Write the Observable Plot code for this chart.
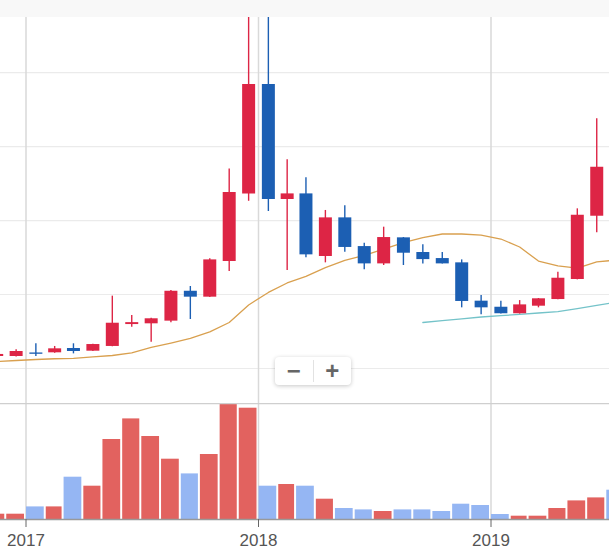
<!DOCTYPE html>
<html>
<head>
<meta charset="utf-8">
<script src="https://cdn.jsdelivr.net/npm/d3@7"></script>
<script src="https://cdn.jsdelivr.net/npm/@observablehq/plot@0.6"></script>
<style>
  html, body { margin: 0; padding: 0; background: #fff; }
  body { font-family: "Liberation Sans", Arial, sans-serif; }
  #wrap { position: relative; width: 609px; height: 549px; overflow: hidden; }
  #band { height: 17px; background: #f8f8f8; }
  #wrap svg { display: block; }
  #zoomctl {
    position: absolute; left: 275px; top: 357px; width: 76px; height: 28px;
    background: #fff; border-radius: 4px; box-shadow: 0 1px 4px rgba(0,0,0,0.22);
    display: flex; align-items: center; color: #666; font-weight: bold;
    font-family: "Liberation Sans", Arial, sans-serif; font-size: 24px; z-index: 2;
  }
  #zoomctl span { flex: 1; text-align: center; line-height: 28px; }
  #zoomctl i { width: 1px; height: 22px; background: #e2e2e2; }
</style>
</head>
<body>
<div id="wrap">
  <div id="band"></div>
  <div id="price"></div>
  <div id="volume"></div>
  <div id="zoomctl"><span>−</span><i></i><span>+</span></div>
</div>
<script>
// Monthly candles, prices in million KRW
const months = [
  "2016-11", "2016-12",
  "2017-01", "2017-02", "2017-03", "2017-04", "2017-05", "2017-06",
  "2017-07", "2017-08", "2017-09", "2017-10", "2017-11", "2017-12",
  "2018-01", "2018-02", "2018-03", "2018-04", "2018-05", "2018-06",
  "2018-07", "2018-08", "2018-09", "2018-10", "2018-11", "2018-12",
  "2019-01", "2019-02", "2019-03", "2019-04", "2019-05", "2019-06", "2019-07"
];
const open = [
  0.81, 0.81,
  1.05, 1.06, 1.35, 1.17, 1.49, 2.97, 3.02, 3.20, 5.22, 4.82, 7.23, 11.80,
  19.19, 11.42, 11.80, 7.57, 10.18, 8.24, 7.07, 8.83, 7.84, 7.43, 7.14, 4.55,
  4.14, 3.70, 4.21, 4.66, 6.01, 10.29, 13.60
];
const high = [
  0.98, 1.26,
  1.67, 1.49, 1.67, 1.64, 4.89, 3.58, 3.40, 5.27, 5.54, 7.41, 13.49, 25.00,
  28.80, 14.10, 12.89, 10.68, 11.00, 8.47, 9.55, 8.85, 8.36, 7.84, 7.34, 4.93,
  4.55, 4.59, 4.73, 6.51, 10.79, 16.87, 15.80
];
const low = [
  0.78, 0.78,
  0.81, 1.03, 0.99, 1.15, 1.47, 2.79, 1.78, 3.09, 3.31, 4.80, 6.55, 11.30,
  10.61, 6.62, 7.48, 7.14, 7.86, 6.67, 6.96, 6.96, 7.07, 7.07, 4.10, 3.63,
  3.68, 3.68, 4.10, 4.64, 5.99, 9.17, 10.50
];
const close = [
  0.95, 1.15,
  0.96, 1.33, 1.15, 1.62, 3.06, 3.10, 3.36, 5.22, 4.82, 7.34, 11.89, 19.19,
  11.42, 11.80, 7.68, 10.18, 8.18, 7.07, 8.85, 7.79, 7.36, 7.07, 4.53, 4.10,
  3.70, 4.30, 4.71, 6.10, 10.36, 13.60, 11.80
];
const volume = [
  5.3, 5.3,
  12.6, 12.6, 42.3, 33.3, 80.0, 100.6, 83.0, 60.3, 45.6, 65.0, 116.0, 111.3,
  33.3, 35.0, 33.3, 20.3, 11.0, 9.6, 8.0, 9.6, 9.6, 8.0, 15.3, 14.0,
  5.0, 3.3, 3.3, 11.0, 18.6, 21.6, 29.3
];
// Moving averages of the close
const maShort = [
  0.47, 0.54,
  0.61, 0.66, 0.69, 0.78, 0.88, 1.05, 1.42, 1.72, 2.03, 2.47, 3.11, 4.29,
  5.14, 5.78, 6.22, 6.82, 7.30, 7.64, 8.07, 8.51, 8.85, 9.09, 9.09, 9.02,
  8.75, 8.21, 7.26, 6.93, 6.79, 7.20, 7.33
];
const maLong = [
  null, null,
  null, null, null, null, null, null, null, null, null, null, null, null,
  null, null, null, null, null, null, null, null, 3.11, 3.24, 3.36, 3.48,
  3.57, 3.66, 3.75, 3.84, 4.04, 4.26, 4.48
];
const priceGrid = [0, 5, 10, 15, 20];
const yearTicks = ["2017-01-01", "2018-01-01", "2019-01-01"].map(s => new Date(s + "T00:00:00Z"));

const UP = "#dd2545", DOWN = "#1c5fb3";
const UP_VOL = "#e2625f", DOWN_VOL = "#95b6f3";

const rows = months.map((m, i) => {
  const [yy, mm] = m.split("-").map(Number);
  const start = new Date(Date.UTC(yy, mm - 1, 1));
  const end = new Date(Date.UTC(yy, mm, 1));
  return {
    start, end, mid: new Date((+start + +end) / 2),
    open: open[i], high: high[i], low: low[i], close: close[i],
    volume: volume[i], maShort: maShort[i], maLong: maLong[i],
    up: close[i] >= open[i]
  };
});

// Visible time window: 2017 tick at 25.5px, 2018 tick at 258px
const t0 = Date.UTC(2017, 0, 1), t1 = Date.UTC(2018, 0, 1);
const pxPerMs = (258 - 25.5) / (t1 - t0);
const xDomain = [new Date(t0 - 25.5 / pxPerMs), new Date(t0 + (609 - 25.5) / pxPerMs)];

const price = Plot.plot({
  width: 609, height: 386,
  marginTop: 0, marginRight: 0, marginBottom: 0, marginLeft: 0,
  x: {type: "utc", domain: xDomain, axis: null},
  y: {domain: [-2.365, 23.72], axis: null},
  color: {type: "identity"},
  style: {background: "transparent"},
  marks: [
    Plot.ruleY(priceGrid, {stroke: "#ebebeb", strokeWidth: 1.2}),
    Plot.ruleX(yearTicks, {stroke: "#d9d9d9", strokeWidth: 1.5}),
    Plot.line(rows, {x: "mid", y: "maShort", stroke: "#d9a04f", strokeWidth: 1.3, clip: true}),
    Plot.line(rows.filter(d => d.maLong != null), {x: "mid", y: "maLong", stroke: "#74c3c9", strokeWidth: 1.3, clip: true}),
    Plot.ruleX(rows, {x: "mid", y1: "low", y2: "high", stroke: d => d.up ? UP : DOWN, strokeWidth: 1.4, clip: true}),
    Plot.ruleX(rows, {x: "mid", y1: "open", y2: "close", stroke: d => d.up ? UP : DOWN, strokeWidth: 13, clip: true})
  ]
});
document.getElementById("price").append(price);

const vol = Plot.plot({
  width: 609, height: 146,
  marginTop: 0, marginRight: 0, marginBottom: 30, marginLeft: 0,
  x: {type: "utc", domain: xDomain, label: null},
  y: {domain: [0, 116], axis: null},
  color: {type: "identity"},
  style: {background: "transparent", color: "#555", fontFamily: "Liberation Sans, Arial, sans-serif"},
  marks: [
    Plot.ruleX(yearTicks, {stroke: "#d9d9d9", strokeWidth: 1.5}),
    Plot.rectY(rows, {x1: "start", x2: "end", y: "volume", fill: d => d.up ? UP_VOL : DOWN_VOL, insetLeft: 0.5, insetRight: 1.5, clip: true}),
    Plot.ruleY([116], {stroke: "#cfcfcf", strokeWidth: 1.3}),
    Plot.ruleY([0], {stroke: "#999", strokeWidth: 1.3}),
    Plot.axisX(yearTicks, {tickFormat: d3.utcFormat("%Y"), tickSize: 8, tickPadding: 6, fontSize: 17, stroke: "#666", fill: "#555", label: null})
  ]
});
document.getElementById("volume").append(vol);
</script>
</body>
</html>
